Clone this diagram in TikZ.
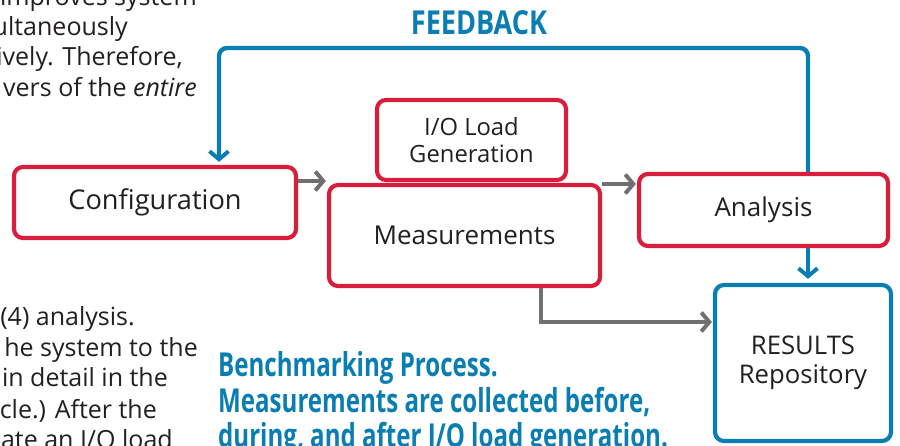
\documentclass[tikz,border=0pt]{standalone}
\usepackage{fontspec}
\setmainfont{Open Sans}
\newfontfamily\capfont[FakeStretch=0.73]{Open Sans}
\newfontfamily\fbfont[FakeStretch=0.82]{Open Sans}
\usetikzlibrary{arrows.meta}
\definecolor{boxred}{HTML}{D81E3C}
\definecolor{fbblue}{HTML}{0A7EB2}
\definecolor{arrgray}{HTML}{707070}
\definecolor{txt}{HTML}{231F20}
\tikzset{
  procbox/.style={draw=boxred, line width=4.2pt, rounded corners=9pt, fill=white,
    inner sep=0pt, align=center, text=txt, font=\fontsize{26}{29}\selectfont},
  resbox/.style={procbox, draw=fbblue},
  garrow/.style={draw=arrgray, line width=4pt,
    -{Straight Barb[length=8pt,width=19pt,line width=4pt]}},
  barrow/.style={draw=fbblue, line width=4.4pt, rounded corners=8pt,
    -{Straight Barb[length=8pt,width=19pt,line width=4pt]}},
  bodytxt/.style={text=txt, inner sep=0pt, font=\fontsize{25}{30}\selectfont},
  captxt/.style={text=fbblue, inner sep=0pt, font=\capfont\bfseries\fontsize{33}{36}\selectfont}
}
\begin{document}
\begin{tikzpicture}[x=1pt,y=-1pt]
\useasboundingbox (0,0) rectangle (900,446);
\clip (0,0) rectangle (900,446);

% body text fragments
\node[bodytxt, anchor=base east] (b1) at (197,6) {improves system};
\node[bodytxt, anchor=base east] (b2) at (128,36) {ultaneously};
\node[bodytxt, anchor=base east] (b3) at (183,66) {ively. Therefore,};
\node[bodytxt, anchor=base east] (b4) at (197,97) {vers of the \emph{entire}};
\node[bodytxt, anchor=base east] (b5) at (135,326) {(4) analysis.};
\node[bodytxt, anchor=base east] (b6) at (198,357) {he system to the};
\node[bodytxt, anchor=base east] (b7) at (168,387) {in detail in the};
\node[bodytxt, anchor=base east] (b8) at (157,418) {cle.) After the};
\node[bodytxt, anchor=base east] (b9) at (173,448) {ate an I/O load};

% boxes
\node[procbox, minimum width=282pt, minimum height=71pt, font=\fontsize{27.2}{30}\selectfont] (config) at (155,202.5) {Configuration};
\node[procbox, minimum width=189pt, minimum height=80pt, font=\fontsize{23.8}{27}\selectfont] (iogen) at (471.5,140) {I/O Load\\Generation};
\node[procbox, minimum width=271pt, minimum height=101pt] (meas) at (464.5,235.5) {Measurements};
\node[procbox, minimum width=249pt, minimum height=72pt] (analysis) at (763.5,210) {Analysis};
\node[resbox, minimum width=176pt, minimum height=156pt, font=\fontsize{25.7}{29.5}\selectfont] (results) at (803,363) {RESULTS\\Repository};

% labels
\node[captxt, font=\fbfont\bfseries\fontsize{33}{36}\selectfont, anchor=base] (fb) at (479,35) {FEEDBACK};
\node[captxt, anchor=base west] (c1) at (218,377) {Benchmarking Process.};
\node[captxt, anchor=base west] (c2) at (218,412) {Measurements are collected before,};
\node[captxt, anchor=base west] (c3) at (218,447) {during, and after I/O load generation.};

% connectors
\draw[garrow, shorten >=1pt] (config.east |- 0,181) -- (meas.west |- 0,181);
\draw[garrow, shorten >=1pt] (meas.east |- 0,184) -- (analysis.west |- 0,184);
\draw[garrow, shorten >=1pt] (meas.south -| 541,0) -- (541,322) -- (results.west |- 0,322);
\draw[barrow, shorten >=4pt] (analysis.south -| 808,0) -- (results.north -| 808,0);
\draw[barrow, shorten >=3pt] (analysis.north -| 808,0) -- (808,48) -- (219,48) -- (config.north -| 219,0);
\end{tikzpicture}
\end{document}
